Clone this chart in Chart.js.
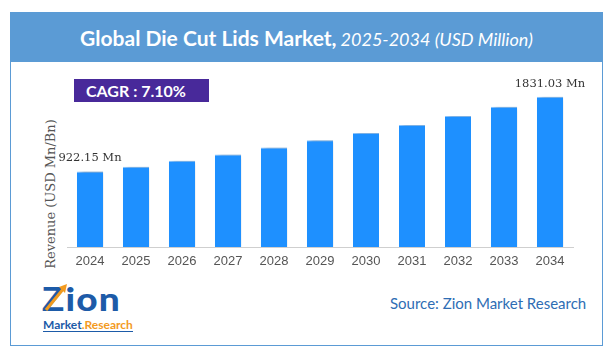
<!DOCTYPE html>
<html>
<head>
<meta charset="utf-8">
<script src="https://cdn.jsdelivr.net/npm/chart.js@4.4.0/dist/chart.umd.min.js"></script>
<style>
  body { margin: 0; background: #fff; }
  #wrap { position: relative; width: 614px; height: 360px; overflow: hidden; }
  #frame { position: absolute; left: 10px; top: 12px; width: 593px; height: 334px; border: 1px solid #5b9bd5; box-sizing: border-box; }
  #banner { position: absolute; left: 10px; top: 12px; width: 593px; height: 50px; background: #5b9bd5; color: #fff;
    font-family: Lato, "Open Sans", sans-serif; text-align: center; line-height: 52px; white-space: nowrap; }
  #banner b { font-size: 21px; }
  #banner i { font-size: 18px; font-weight: normal; }
  #cagr { position: absolute; left: 74px; top: 79px; width: 135px; height: 23px; background: #48299a; color: #fff;
    font: bold 16px Lato, sans-serif; line-height: 23px; padding-left: 12px; box-sizing: border-box; }
  #ytitle { position: absolute; left: 50px; top: 194px; transform: translate(-50%, -50%) rotate(-90deg);
    font: 13px "DejaVu Serif", serif; color: #555; white-space: nowrap; }
  #logo { position: absolute; left: 42px; top: 282px; width: 92px; height: 56px; }
  #logo .big { position: absolute; left: 0; top: -4px; font: 900 33px Lato, sans-serif; color: #1d5ba8;
    letter-spacing: 1px; transform: scaleX(1.12); transform-origin: left top; }
  #logo .small { position: absolute; left: 1px; top: 36px; font: bold 12px Lato, sans-serif; color: #1d5ba8;
    border-bottom: 1px solid #1d5ba8; line-height: 13px; }
  #logo .small span { color: #f39a1e; }
  #logo svg { position: absolute; left: 0; top: 0; }
  #source { position: absolute; left: 390px; top: 294px; font: 15px Lato, sans-serif; color: #2e6db4; white-space: nowrap; }
  canvas { position: absolute; left: 0; top: 0; }
</style>
</head>
<body>
<div id="wrap">
  <div id="frame"></div>
  <div id="banner"><b>Global Die Cut Lids Market,</b> <i>2025-2034 (USD Million)</i></div>
  <div id="cagr">CAGR : 7.10%</div>
  <div id="ytitle">Revenue (USD Mn/Bn)</div>
  <div id="logo">
    <div class="big">Zion</div>
    <svg width="40" height="34"><path d="M4 28 L22 6" stroke="#f39a1e" stroke-width="3" fill="none"/><path d="M17 5 L25 2 L23 11 Z" fill="#f39a1e"/></svg>
    <div class="small">Market<span>.Research</span></div>
  </div>
  <div id="source">Source: Zion Market Research</div>
  <canvas id="chart" width="614" height="360"></canvas>
</div>
<script>
const years = ["2024", "2025", "2026", "2027", "2028", "2029", "2030", "2031", "2032", "2033", "2034"];
const revenue = [922.15, 980, 1053, 1127, 1212, 1302, 1391, 1489, 1599, 1709, 1831.03];
const labelled = { 0: "922.15 Mn", 10: "1831.03 Mn" };

const shadowPlugin = {
  id: "barShadow",
  beforeDatasetsDraw(chart) {
    const ctx = chart.ctx;
    ctx.save();
    ctx.shadowColor = "rgba(0, 0, 0, 0.45)";
    ctx.shadowOffsetX = 4;
    ctx.shadowOffsetY = 1;
    ctx.shadowBlur = 4;
  },
  afterDatasetsDraw(chart) {
    chart.ctx.restore();
  }
};

const valueLabels = {
  id: "valueLabels",
  afterDraw(chart) {
    const ctx = chart.ctx;
    const bars = chart.getDatasetMeta(0).data;
    ctx.save();
    ctx.font = "11.5px 'DejaVu Serif', serif";
    ctx.fillStyle = "#333";
    ctx.textAlign = "center";
    ctx.textBaseline = "alphabetic";
    Object.keys(labelled).forEach((i) => {
      const bar = bars[i];
      ctx.fillText(labelled[i], bar.x, bar.y - 10);
    });
    ctx.restore();
  }
};

new Chart(document.getElementById("chart"), {
  type: "bar",
  data: {
    labels: years,
    datasets: [{
      data: revenue,
      backgroundColor: "#1e90ff",
      borderColor: "#8cc6ff",
      borderWidth: { top: 1, left: 0, right: 0, bottom: 0 },
      borderSkipped: false,
      barPercentage: 0.57,
      categoryPercentage: 1
    }]
  },
  options: {
    responsive: false,
    animation: false,
    layout: { padding: { left: 67, right: 41, top: 83, bottom: 0 } },
    plugins: { legend: { display: false }, tooltip: { enabled: false } },
    scales: {
      x: {
        grid: { display: false, drawTicks: false, tickLength: 0 },
        border: { display: true, color: "#cfcfcf", width: 1 },
        ticks: { color: "#555", font: { family: "'Liberation Sans', Arial, sans-serif", size: 13 }, padding: 7, maxRotation: 0 },
        afterFit(scale) { scale.height = 113; }
      },
      y: {
        display: false,
        min: 0,
        max: 2000
      }
    }
  },
  plugins: [shadowPlugin, valueLabels]
});
</script>
</body>
</html>
